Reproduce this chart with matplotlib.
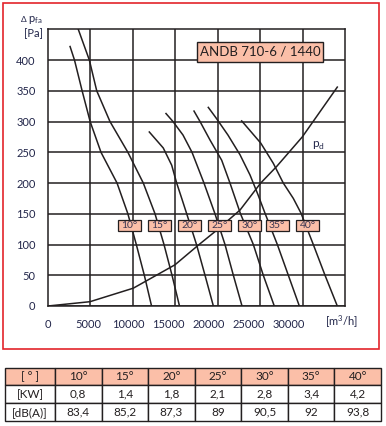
import numpy as np
import matplotlib
matplotlib.use("Agg")
import matplotlib.pyplot as plt
from matplotlib.patches import Rectangle

plt.rcParams['font.family'] = ['Lato', 'DejaVu Sans']

# fan curves (airflow m3/h, pressure Pa) for each blade angle
angles = ["10°", "15°", "20°", "25°", "30°", "35°", "40°"]
q10 = [2750, 3300, 4250, 5250, 6600, 8600, 9950, 11000, 12000, 12900]
p10 = [422, 400, 350, 300, 250, 200, 150, 100, 50, 0]
q15 = [3770, 5150, 6070, 7720, 9950, 11870, 13330, 14450, 15450, 16380]
p15 = [450, 400, 350, 300, 250, 200, 150, 100, 50, 0]
q20 = [12620, 14360, 15410, 16030, 16660, 17280, 18500, 19560, 20600]
p20 = [283, 257, 229, 200, 175, 150, 100, 50, 0]
q25 = [14700, 15570, 16820, 17940, 19430, 20800, 22050, 23090, 24170]
p25 = [313, 300, 278, 250, 200, 150, 100, 50, 0]
q30 = [18190, 18940, 20180, 21640, 22670, 23980, 25580, 26820, 28190]
p30 = [317, 300, 270, 237, 200, 150, 100, 50, 0]
q35 = [19970, 20930, 22420, 23920, 25170, 26160, 27030, 28570, 29940, 31310]
p35 = [323, 306, 278, 246, 213, 181, 151, 100, 50, 0]
q40 = [24130, 26500, 28070, 29310, 30560, 31520, 33050, 34510, 36040]
p40 = [301, 265, 232, 200, 175, 151, 100, 50, 0]

# dynamic pressure curve
qd = [0, 5230, 10630, 15820, 18730, 21090, 23920, 26500, 28490, 31680, 36040]
pd = [0, 7, 29, 67, 99, 124, 156, 200, 227, 275, 356]

# table values
kw = ["0,8", "1,4", "1,8", "2,1", "2,8", "3,4", "4,2"]
dba = ["83,4", "85,2", "87,3", "89", "90,5", "92", "93,8"]

xticks = [0, 5000, 10000, 15000, 20000, 25000, 30000]
yticks = list(range(0, 401, 50))

# layout for the angle tags on the chart
tag_x = [10190, 13860, 17600, 21340, 25080, 28550, 32330]
tag_y = 131

ink = "#231f20"
navy = "#22264a"
salmon = "#fbbfa8"
xmax, ymax = 37000, 450

fig = plt.figure(figsize=(3.86, 4.26), dpi=100)

# red frame round the chart
fig.patches.append(Rectangle((3 / 386, 1 - 349 / 426), 376 / 386, 346 / 426,
                             transform=fig.transFigure, fill=False,
                             edgecolor="#e3242b", lw=1.2))

ax = fig.add_axes([48 / 386, 120 / 426, 297 / 386, 276.7 / 426])
ax.set_xlim(0, xmax)
ax.set_ylim(0, ymax)

# grid: 7 equal columns, rows every 50 Pa
ax.set_xticks(xticks)
ax.set_yticks(yticks)
ax.set_xticks([xmax * i / 7 for i in range(1, 7)], minor=True)
ax.grid(axis="x", which="minor", color=ink, lw=1.1)
ax.grid(axis="y", which="major", color=ink, lw=1.1)
ax.tick_params(which="minor", length=0)
ax.tick_params(which="major", length=0, labelsize=8, labelcolor=navy, pad=9)
for s in ax.spines.values():
    s.set_color(ink)
    s.set_linewidth(1.1)

curves = [(q10, p10), (q15, p15), (q20, p20), (q25, p25),
          (q30, p30), (q35, p35), (q40, p40)]
for q, p in curves:
    ax.plot(q, p, color=ink, lw=1.1)
ax.plot(qd, pd, color=ink, lw=1.1)

tw, th = 2830, 19
for lab, x in zip(angles, tag_x):
    ax.add_patch(Rectangle((x - tw / 2, tag_y - th / 2), tw, th,
                           facecolor=salmon, edgecolor=ink, lw=0.9, zorder=4))
    ax.text(x, tag_y, lab, ha="center", va="center", fontsize=7.5,
            color="#3a3550", zorder=5)

# title box
ax.add_patch(Rectangle((0.5007, 0.883), 0.4243, 0.072, transform=ax.transAxes,
                       facecolor=salmon, edgecolor=ink, lw=1.0, zorder=4))
ax.text(0.513, 0.919, "ANDB 710-6 / 1440", transform=ax.transAxes,
        ha="left", va="center", fontsize=9.5, color=ink, zorder=5)

ax.text(0.89, 0.578, r"p$_\mathregular{d}$", transform=ax.transAxes,
        fontsize=8.5, color=navy, ha="left", va="center")

fig.text(24 / 386, 1 - 20 / 426, "Δ", fontsize=6, color=navy, ha="center", va="center")
fig.text(28 / 386, 1 - 20 / 426, r"p$_\mathregular{fa}$", fontsize=8, color=navy,
         ha="left", va="center")
fig.text(33.5 / 386, 1 - 34 / 426, "[Pa]", fontsize=8, color=navy, ha="center", va="center")
fig.text(342 / 386, 1 - 322 / 426, "[m$^\\mathregular{3}$/h]", fontsize=8, color=navy,
         ha="center", va="center")

# table under the chart
tax = fig.add_axes([5 / 386, 5 / 426, 376 / 386, 53.3 / 426])
tax.axis("off")
cells = [["[ ° ]"] + angles, ["[KW]"] + kw, ["[dB(A)]"] + dba]
widths = [50] + [46.6] * 7
tbl = tax.table(cellText=cells, colWidths=[w / sum(widths) for w in widths],
                cellLoc="center", bbox=[0, 0, 1, 1])
tbl.auto_set_font_size(False)
for (r, c), cell in tbl.get_celld().items():
    cell.set_edgecolor(ink)
    cell.set_linewidth(1.0)
    cell.get_text().set_fontsize(8.5)
    cell.get_text().set_color(ink)
    if r == 0:
        cell.set_facecolor(salmon)

fig.savefig("out.png", dpi=100)
